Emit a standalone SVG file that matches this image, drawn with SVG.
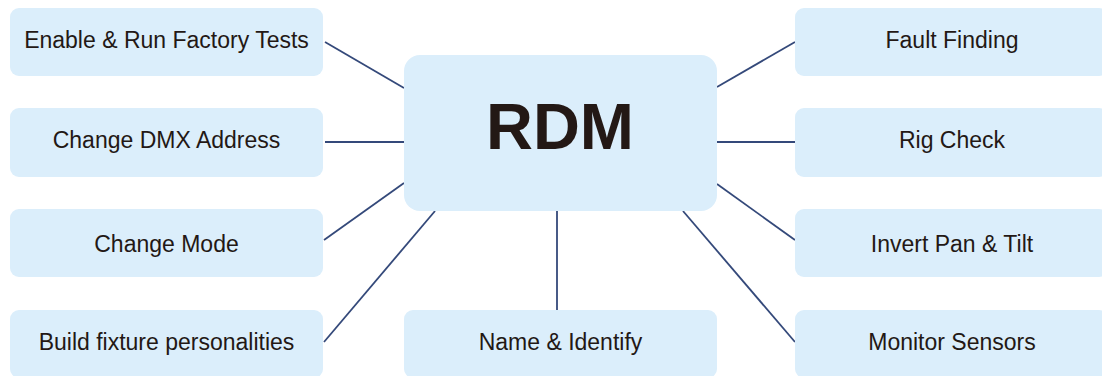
<svg xmlns="http://www.w3.org/2000/svg" width="1102" height="376" viewBox="0 0 1102 376">
<style>
.box{fill:#dbeefb;}
.lbl{font-family:"Liberation Sans",Arial,sans-serif;font-size:23px;fill:#231815;text-anchor:middle;}
.title{font-family:"Liberation Sans",Arial,sans-serif;font-size:65px;font-weight:bold;fill:#231815;text-anchor:middle;}
.conn line{stroke:#34497a;stroke-width:1.8;}
</style>
<rect width="1102" height="376" fill="#ffffff"/>
<g id="connectors" class="conn">
<line x1="325" y1="42" x2="404" y2="88"/>
<line x1="325" y1="142" x2="404" y2="142"/>
<line x1="324" y1="240" x2="404" y2="183"/>
<line x1="324" y1="342" x2="435" y2="211"/>
<line x1="557" y1="211" x2="557" y2="310"/>
<line x1="683" y1="211" x2="795" y2="342"/>
<line x1="717" y1="184" x2="795" y2="240"/>
<line x1="717" y1="142" x2="795" y2="142"/>
<line x1="717" y1="87" x2="795" y2="42"/>
</g>
<g id="rdm">
<rect class="box" x="404" y="55" width="313" height="156" rx="16"/>
<text class="title" x="560" y="149">RDM</text>
</g>
<g id="factory-tests">
<rect class="box" x="10" y="8" width="313" height="68" rx="9"/>
<text class="lbl" x="166.5" y="48">Enable &amp; Run Factory Tests</text>
</g>
<g id="dmx-address">
<rect class="box" x="10" y="108" width="313" height="69" rx="9"/>
<text class="lbl" x="166.5" y="148">Change DMX Address</text>
</g>
<g id="change-mode">
<rect class="box" x="10" y="209" width="313" height="68" rx="9"/>
<text class="lbl" x="166.5" y="252">Change Mode</text>
</g>
<g id="personalities">
<rect class="box" x="10" y="310" width="313" height="68" rx="9"/>
<text class="lbl" x="166.5" y="350">Build fixture personalities</text>
</g>
<g id="name-identify">
<rect class="box" x="404" y="310" width="313" height="68" rx="9"/>
<text class="lbl" x="560.5" y="350">Name &amp; Identify</text>
</g>
<g id="fault-finding">
<rect class="box" x="795" y="8" width="313" height="68" rx="9"/>
<text class="lbl" x="952" y="48">Fault Finding</text>
</g>
<g id="rig-check">
<rect class="box" x="795" y="108" width="313" height="69" rx="9"/>
<text class="lbl" x="952" y="148">Rig Check</text>
</g>
<g id="invert-pan-tilt">
<rect class="box" x="795" y="209" width="313" height="68" rx="9"/>
<text class="lbl" x="952" y="252">Invert Pan &amp; Tilt</text>
</g>
<g id="monitor-sensors">
<rect class="box" x="795" y="310" width="313" height="68" rx="9"/>
<text class="lbl" x="952" y="350">Monitor Sensors</text>
</g>
</svg>
